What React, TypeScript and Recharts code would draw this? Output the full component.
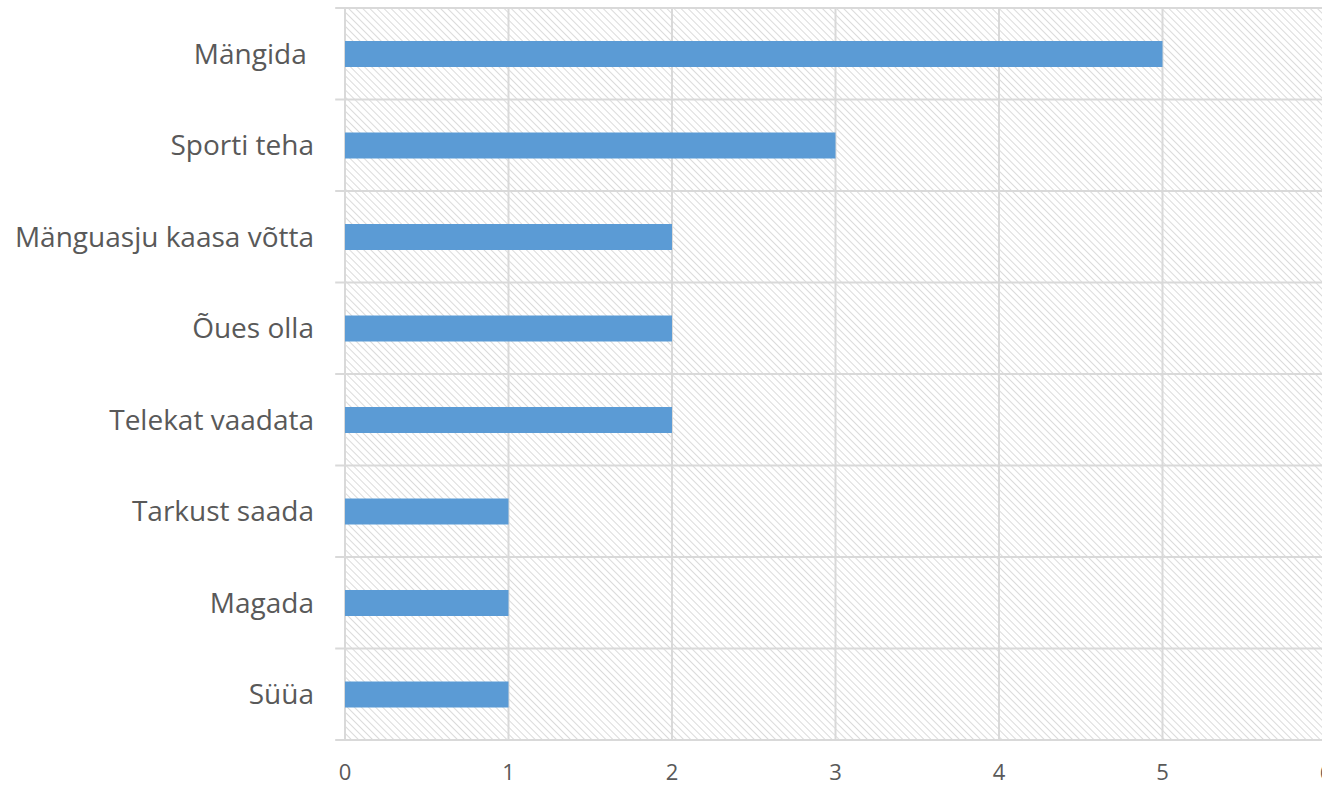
import { BarChart, Bar, XAxis, YAxis, CartesianGrid, ReferenceLine } from "recharts";

const categories = [
  "Mängida ",
  "Sporti teha",
  "Mänguasju kaasa võtta",
  "Õues olla",
  "Telekat vaadata",
  "Tarkust saada",
  "Magada",
  "Süüa",
];
const counts = [5, 3, 2, 2, 2, 1, 1, 1];
const xTicks = [0, 1, 2, 3, 4, 5, 6];

const data = categories.map((name, i) => ({ name, value: counts[i] }));

const FONT = "'Open Sans', 'Noto Sans', sans-serif";
const GRID = "#d9d9d9";
const TEXT = "#595959";

const CategoryTick = ({ x, y, payload }: any) => (
  <text
    x={x}
    y={y}
    dy="0.355em"
    textAnchor="end"
    fontSize={28}
    fontFamily={FONT}
    fill={TEXT}
    style={{ whiteSpace: "pre" }}
  >
    {payload.value}
  </text>
);

// band edges: top of every category, plus bottom of the last one
const edgeLines = [
  ...categories.map((c) => ({ cat: c, pos: "start" as const })),
  { cat: categories[categories.length - 1], pos: "end" as const },
];

export default function App() {
  return (
    <div style={{ position: "fixed", top: 0, left: 0, width: 1322, height: 785, overflow: "hidden", background: "#fff" }}>
      <BarChart
        layout="vertical"
        width={1340}
        height={785}
        data={data}
        barSize={26}
        margin={{ top: 8, right: 14, bottom: 5, left: 0 }}
      >
        <defs>
          <pattern id="hatch" width="5" height="5" patternUnits="userSpaceOnUse" patternTransform="rotate(-45)">
            <line x1="0" y1="0" x2="0" y2="5" stroke="#d2d2d2" strokeWidth="1.6" />
          </pattern>
        </defs>
        <XAxis
          type="number"
          domain={[0, 6]}
          ticks={xTicks}
          interval={0}
          height={40}
          axisLine={false}
          tickLine={false}
          tickSize={6}
          tickMargin={18}
          tick={{ fontSize: 22, fill: TEXT, fontFamily: FONT }}
        />
        <YAxis
          type="category"
          dataKey="name"
          width={345}
          axisLine={false}
          tickLine={false}
          tickSize={0}
          tickMargin={31}
          interval={0}
          tick={<CategoryTick />}
        />
        <CartesianGrid stroke={GRID} strokeWidth={2} fill="url(#hatch)" horizontal={false} />
        {edgeLines.map((e, i) => (
          <ReferenceLine
            key={i}
            ifOverflow="visible"
            position={e.pos}
            segment={[{ x: -0.06, y: e.cat }, { x: 6, y: e.cat }]}
            stroke={GRID}
            strokeWidth={2}
          />
        ))}
        <Bar dataKey="value" fill="#5b9bd5" isAnimationActive={false} />
      </BarChart>
    </div>
  );
}
